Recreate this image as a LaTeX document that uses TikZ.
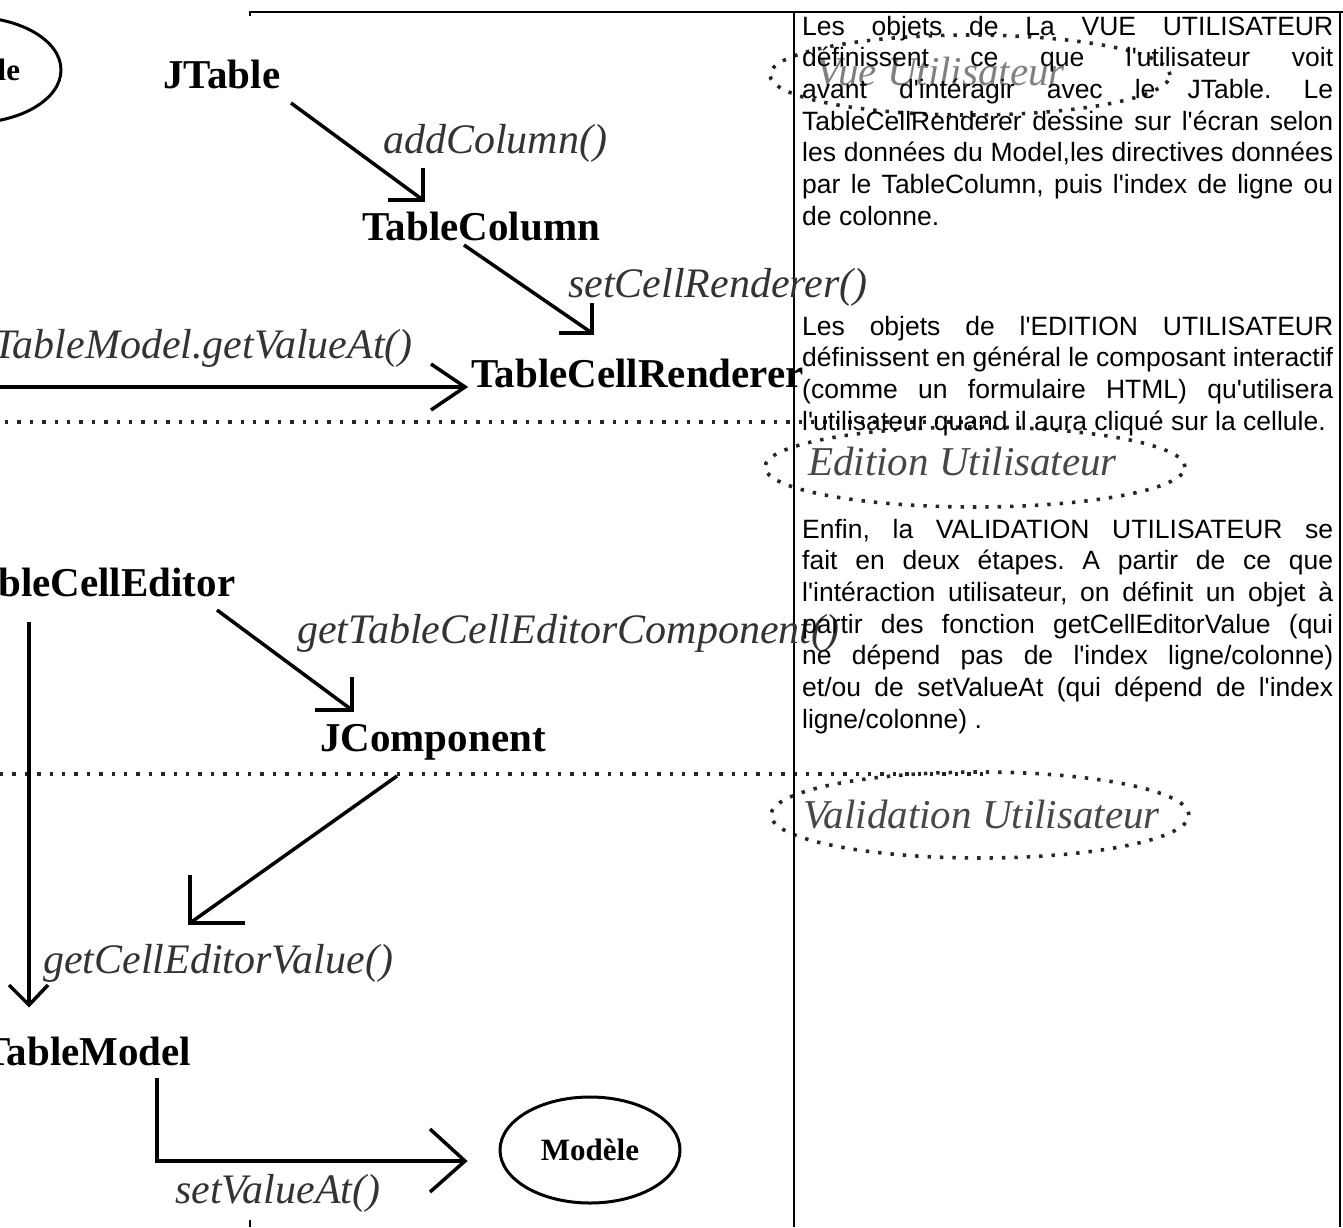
\documentclass[tikz,border=0pt]{standalone}
\usepackage{fontspec}
\setmainfont{Liberation Serif}
\newfontfamily\arialf{Liberation Sans}[Ligatures=TeXOff]
\usetikzlibrary{shapes.geometric}
\newcommand\mypfont{\arialf\fontsize{26.5}{31.7}\selectfont\frenchspacing}
\newcommand\jl[1]{\makebox[531pt][s]{#1}\\}
\begin{document}
\begin{tikzpicture}[x=1pt,y=-1pt,
  bold/.style={font=\fontsize{41}{45}\selectfont\bfseries, inner sep=0pt, anchor=base west},
  lbl/.style={font=\fontsize{42}{46}\selectfont\itshape, text=black!80, inner sep=0pt, anchor=base west},
  elab/.style={font=\fontsize{41}{46}\selectfont\itshape, text=black!72, inner sep=0pt, anchor=base west},
  conn/.style={line width=3.5pt, line join=miter, line cap=butt},
  dots/.style={draw=black!85, line width=3.6pt, dash pattern=on 3.4pt off 9pt, line cap=butt},
  frame/.style={line width=2pt},
  para/.style={inner sep=0pt, anchor=base west},
  modele/.style={draw, ellipse, line width=3pt, minimum width=180pt, minimum height=106pt, inner sep=0pt, font=\fontsize{31}{31}\selectfont\bfseries},
]
\useasboundingbox (0,0) rectangle (1343,1227);

% dotted separators and ellipses (behind)
\draw[dots] (5,422) -- (990,422);
\draw[dots] (0,774) -- (990,774);
\draw[dots] (970,75) ellipse [x radius=200pt, y radius=40pt];
\draw[dots] (975,467) ellipse [x radius=210pt, y radius=40pt];
\draw[dots] (980,815) ellipse [x radius=209pt, y radius=43pt];
\node[elab, text=black!50] (vue) at (816,85) {Vue Utilisateur};
\node[elab] (edit) at (808,475) {Edition Utilisateur};
\node[elab] (valid) at (803,828) {Validation Utilisateur};

% frame
\draw[frame] (250,16) -- (250,12) -- (1343,12);
\draw[frame] (794,12) -- (794,1227);
\draw[frame] (1340,12) -- (1340,1227);
\draw[frame] (250,1220) -- (250,1227);

% class nodes
\node[modele] (mod1) at (-29,70) {Modèle};
\node[modele] (mod2) at (590,1150) {Modèle};
\node[bold] (jtable) at (163,88) {JTable};
\node[bold] (tcol) at (362,240) {TableColumn};
\node[bold] (tcr) at (471,387) {TableCellRenderer};
\node[bold] (tce) at (-46,596) {TableCellEditor};
\node[bold] (jcomp) at (320,751) {JComponent};
\node[bold] (tmodel) at (-17,1065) {TableModel};

% labels
\node[lbl] (l1) at (383,153) {addColumn()};
\node[lbl] (l2) at (568,297) {setCellRenderer()};
\node[lbl, anchor=base east] (l3) at (413,358) {TableModel.getValueAt()};
\node[lbl] (l4) at (297,643) {getTableCellEditorComponent()};
\node[lbl] (l5) at (43,973) {getCellEditorValue()};
\node[lbl] (l6) at (175,1203) {setValueAt()};

% connector end points
\coordinate (a1s) at (291,103);  \coordinate (a1e) at (423,200);
\coordinate (a2s) at (464,245);  \coordinate (a2e) at (592,333);
\coordinate (a3s) at (-5,387);   \coordinate (a3e) at (465,387);
\coordinate (a4s) at (217,610);  \coordinate (a4e) at (352,710);
\coordinate (a5s) at (29,622);   \coordinate (a5e) at (29,1005);
\coordinate (a6s) at (397,776);  \coordinate (a6e) at (190,923);
\coordinate (a7s) at (157,1078); \coordinate (a7e) at (465,1161);

% connectors
\draw[conn] (a1s) -- (a1e);
\draw[conn] (a1e) ++(0,-32) -- (a1e) -- ++(-35,0);
\draw[conn] (a2s) -- (a2e);
\draw[conn] (a2e) ++(0,-30) -- (a2e) -- ++(-33,0);
\draw[conn] (a3s) -- (a3e);
\draw[conn] (a3e) ++(-34,-23) -- (a3e) -- ++(-34,23);
\draw[conn] (a4s) -- (a4e);
\draw[conn] (a4e) ++(0,-33) -- (a4e) -- ++(-37,0);
\draw[conn] (a5s) -- (a5e);
\draw[conn] (a5e) ++(-20,-20) -- (a5e) -- ++(19,-20);
\draw[conn] (a6s) -- (a6e);
\draw[conn] (a6e) ++(0,-48) -- (a6e) -- ++(55,0);
\draw[conn] (a7s) |- (a7e);
\draw[conn] (a7e) ++(-35,-32) -- (a7e) -- ++(-35,31);

% explanatory text
\node[para] (p1) at (802,35) {\parbox[t]{531pt}{\mypfont
\jl{Les objets de La VUE UTILISATEUR}
\jl{définissent ce que l'utilisateur voit}
\jl{avant d'intéragir avec le JTable. Le}
\jl{TableCellRenderer dessine sur l'écran selon}
\jl{les données du Model,les directives données}
\jl{par le TableColumn, puis l'index de ligne ou}
de colonne.}};
\node[para] (p2) at (802,335) {\parbox[t]{531pt}{\mypfont
\jl{Les objets de l'EDITION UTILISATEUR}
\jl{définissent en général le composant interactif}
\jl{(comme un formulaire HTML) qu'utilisera}
l'utilisateur quand il aura cliqué sur la cellule.}};
\node[para] (p3) at (802,538) {\parbox[t]{531pt}{\mypfont
\jl{Enfin, la VALIDATION UTILISATEUR se}
\jl{fait en deux étapes. A partir de ce que}
\jl{l'intéraction utilisateur, on définit un objet à}
\jl{partir des fonction getCellEditorValue (qui}
\jl{ne dépend pas de l'index ligne/colonne)}
\jl{et/ou de setValueAt (qui dépend de l'index}
ligne/colonne) .}};
\end{tikzpicture}
\end{document}
